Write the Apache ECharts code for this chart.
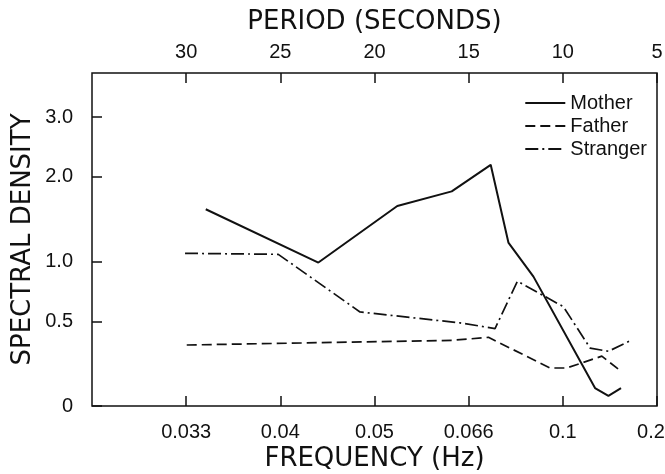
<!DOCTYPE html>
<html>
<head>
<meta charset="utf-8">
<script src="https://cdn.jsdelivr.net/npm/echarts@6/dist/echarts.min.js"></script>
<style>
  html, body { margin: 0; padding: 0; background: #fff; }
  #chart { width: 665px; height: 474px; }
</style>
</head>
<body>
<div id="chart"></div>
<script>
// periods (s) and spectral density
const motherPeriod = [28.96, 22.98, 18.79, 15.90, 13.83, 12.89, 11.56, 8.29, 7.58, 6.91];
const motherDensity = [1.57, 0.99, 1.61, 1.80, 2.18, 1.19, 0.86, 0.09, 0.05, 0.09];
const fatherPeriod = [29.97, 15.90, 13.95, 10.68, 9.79, 7.93, 7.01];
const fatherDensity = [0.34, 0.37, 0.39, 0.20, 0.20, 0.27, 0.19];
const strangerPeriod = [30.06, 25.11, 20.77, 15.46, 13.60, 12.41, 9.97, 8.55, 7.58, 6.38];
const strangerDensity = [1.08, 1.07, 0.57, 0.49, 0.45, 0.82, 0.61, 0.32, 0.30, 0.37];

// axis ticks
const periodTicks = [30, 25, 20, 15, 10, 5];
const freqLabels = ['0.033', '0.04', '0.05', '0.066', '0.1', '0.2'];
const densityTicks = [0, 0.5, 1, 2, 3];
const densityLabels = ['0', '0.5', '1.0', '2.0', '3.0'];

// the density axis is drawn as log10(1 + d)
const tr = d => Math.log10(1 + d);
const pairs = (p, d) => p.map((x, i) => [x, tr(d[i])]);

const FONT = 'Liberation Sans';
const chart = echarts.init(document.getElementById('chart'), null, { renderer: 'canvas' });

const xCommon = {
  type: 'value',
  min: 5,
  max: 35,
  inverse: true,
  nameLocation: 'middle',
  nameMoveOverlap: false,
  nameTextStyle: { fontFamily: 'DejaVu Sans', fontSize: 26, color: '#111' },
  axisLine: { show: false },
  splitLine: { show: false },
  axisTick: { show: true, inside: true, length: 10, customValues: periodTicks, lineStyle: { color: '#111', width: 1.5 } },
};

const option = {
  animation: false,
  backgroundColor: '#fff',
  grid: {
    left: 92, right: 8, top: 73, bottom: 68,
    outerBoundsMode: 'none', containLabel: false,
    show: true, borderColor: '#111', borderWidth: 1.5
  },
  legend: {
    orient: 'vertical',
    right: 13,
    top: 88,
    itemWidth: 40,
    itemHeight: 14,
    itemGap: 3,
    itemStyle: { opacity: 0 },
    textStyle: { fontFamily: FONT, fontSize: 20, color: '#111', lineHeight: 19 },
    data: ['Mother', 'Father', 'Stranger']
  },
  xAxis: [
    Object.assign({}, xCommon, {
      position: 'bottom',
      name: 'FREQUENCY (Hz)',
      nameGap: 40,
      axisLabel: {
        customValues: periodTicks, margin: 16,
        fontFamily: FONT, fontSize: 20, color: '#111',
        formatter: v => {
          const i = periodTicks.indexOf(v);
          // last label sits against the right edge, nudge it inward
          return i === periodTicks.length - 1 ? '{e|' + freqLabels[i] + '}' : freqLabels[i];
        },
        rich: { e: { fontFamily: FONT, fontSize: 20, color: '#111', padding: [0, 12, 0, 0] } }
      }
    }),
    Object.assign({}, xCommon, {
      position: 'top',
      name: 'PERIOD (SECONDS)',
      nameGap: 38,
      axisLabel: {
        customValues: periodTicks, margin: 11,
        fontFamily: FONT, fontSize: 20, color: '#111',
        formatter: v => String(v)
      }
    })
  ],
  yAxis: {
    type: 'value',
    min: 0,
    max: tr(3.94),
    name: 'SPECTRAL DENSITY',
    nameLocation: 'middle',
    nameMoveOverlap: false,
    nameGap: 56,
    nameTextStyle: { fontFamily: 'DejaVu Sans', fontSize: 26, color: '#111' },
    axisLine: { show: false },
    splitLine: { show: false },
    axisTick: { show: true, inside: true, length: 10, customValues: densityTicks.map(tr), lineStyle: { color: '#111', width: 1.5 } },
    axisLabel: {
      customValues: densityTicks.map(tr), margin: 19,
      fontFamily: FONT, fontSize: 20, color: '#111',
      formatter: v => {
        let best = 0;
        densityTicks.forEach((t, i) => {
          if (Math.abs(tr(t) - v) < Math.abs(tr(densityTicks[best]) - v)) best = i;
        });
        return densityLabels[best];
      }
    }
  },
  series: [
    {
      name: 'Mother', type: 'line', symbol: 'none',
      lineStyle: { color: '#111', width: 2, type: 'solid' },
      itemStyle: { color: '#111' },
      data: pairs(motherPeriod, motherDensity)
    },
    {
      name: 'Father', type: 'line', symbol: 'none',
      lineStyle: { color: '#111', width: 1.7, type: [10, 5] },
      itemStyle: { color: '#111' },
      data: pairs(fatherPeriod, fatherDensity)
    },
    {
      name: 'Stranger', type: 'line', symbol: 'none',
      lineStyle: { color: '#111', width: 1.7, type: [13, 4, 2, 4] },
      itemStyle: { color: '#111' },
      data: pairs(strangerPeriod, strangerDensity)
    }
  ]
};

chart.setOption(option);
</script>
</body>
</html>
